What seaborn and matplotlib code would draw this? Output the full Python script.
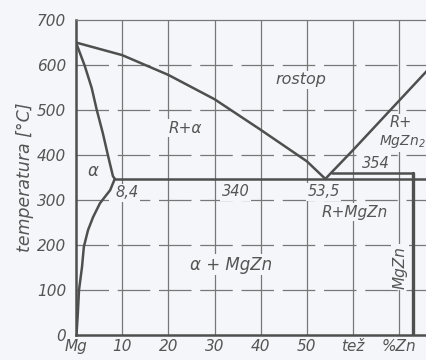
import matplotlib
matplotlib.use("Agg")
import matplotlib.pyplot as plt
import seaborn as sns

# phase boundaries (x = wt% Zn, t = temperature in C)
liq_left_x = [0, 10, 20, 30, 40, 50, 54]
liq_left_t = [650, 622, 578, 524, 456, 386, 347]
liq_right_x = [54, 60, 70, 76]
liq_right_t = [347, 411, 521, 587]
solvus_hi_x = [0, 1.9, 3.4, 4.5, 5.8, 6.9, 8.0, 8.4]
solvus_hi_t = [650, 598, 549, 500, 449, 400, 353, 347]
solvus_lo_x = [8.4, 7.4, 5.2, 3.7, 2.6, 1.7, 1.3, 0.65, 0.4, 0.1]
solvus_lo_t = [347, 322, 293, 262, 233, 196, 151, 100, 49, 0]
eut_x = [8.4, 76]
eut_t = [347, 347]
perit_x = [55.4, 73]
perit_t = [361, 361]
mgzn_x = [73, 73]
mgzn_t = [361, 0]

x_ticks = [0, 10, 20, 30, 40, 50, 60, 70]
x_labels = ["Mg", "10", "20", "30", "40", "50", "tež", "%Zn"]
y_ticks = [0, 100, 200, 300, 400, 500, 600, 700]

bg = "#f4f6fa"
ink = "#555555"

sns.set_theme(style="white")
plt.rcParams["font.family"] = ["DejaVu Sans"]
plt.rcParams["font.style"] = "italic"

fig = plt.figure(figsize=(4.26, 3.6), dpi=100, facecolor=bg)
ax = fig.add_axes([0.1784, 0.0694, 0.8216, 0.8750], facecolor=bg)

# grid like the printed chart
for xv in x_ticks[1:]:
    ax.axvline(xv, color="#777777", lw=0.9, zorder=1)
for yv in y_ticks[1:-1]:
    ax.axhline(yv, color="#777777", lw=0.9, ls=(0, (26, 7)), zorder=1)

lines = [
    (liq_left_x, liq_left_t),
    (liq_right_x, liq_right_t),
    (solvus_hi_x, solvus_hi_t),
    (solvus_lo_x, solvus_lo_t),
    (eut_x, eut_t),
    (perit_x, perit_t),
]
for xs, ts in lines:
    sns.lineplot(x=xs, y=ts, sort=False, estimator=None, color="#4f4f4f",
                 linewidth=1.8, ax=ax, zorder=3)
sns.lineplot(x=mgzn_x, y=mgzn_t, sort=False, estimator=None, color="#4f4f4f",
             linewidth=2.4, ax=ax, zorder=3)

ax.set_xlim(0, 75.8)
ax.set_ylim(0, 700)
ax.set_xticks(x_ticks)
ax.set_xticklabels(x_labels)
ax.set_yticks(y_ticks)
ax.tick_params(axis="both", length=0, labelsize=11, colors=ink)
ax.tick_params(axis="y", pad=7)
ax.tick_params(axis="x", pad=3)
ax.set_ylabel("temperatura [°C]", fontsize=12.5, color=ink, labelpad=2)
ax.set_xlabel("")

for side in ["left", "bottom"]:
    ax.spines[side].set_color("#4f4f4f")
    ax.spines[side].set_linewidth(1.8)
ax.spines["top"].set_color("#777777")
ax.spines["top"].set_linewidth(0.9)
ax.spines["right"].set_visible(False)

box = dict(fc=bg, ec="none", pad=1)
kw = dict(color=ink, fontstyle="italic", zorder=4)
ax.text(48.7, 567, "rostop", fontsize=11.5, ha="center", va="center", bbox=box, **kw)
ax.text(23.6, 460, "R+α", fontsize=11, ha="center", va="center", bbox=box, **kw)
ax.text(3.6, 364, "α", fontsize=12, ha="center", va="center", **kw)
ax.text(8.6, 316, "8,4", fontsize=10.5, ha="left", va="center", bbox=box, **kw)
ax.text(34.6, 318, "340", fontsize=10.5, ha="center", va="center", bbox=box, **kw)
ax.text(53.6, 318, "53,5", fontsize=10.5, ha="center", va="center", bbox=box, **kw)
ax.text(65.0, 382, "354", fontsize=10.5, ha="center", va="center", bbox=box, **kw)
ax.text(70.3, 472, "R+", fontsize=10.5, ha="center", va="center", bbox=box, **kw)
ax.text(70.6, 429, "MgZn$_2$", fontsize=10, ha="center", va="center", bbox=box, **kw)
ax.text(60.4, 273, "R+MgZn", fontsize=11, ha="center", va="center", bbox=box, **kw)
ax.text(33.5, 156, "α + MgZn", fontsize=12, ha="center", va="center", bbox=box, **kw)
ax.text(70.1, 151, "MgZn", fontsize=11, ha="center", va="center", rotation=90,
        bbox=box, **kw)

fig.savefig("out.png", dpi=100, facecolor=bg)
